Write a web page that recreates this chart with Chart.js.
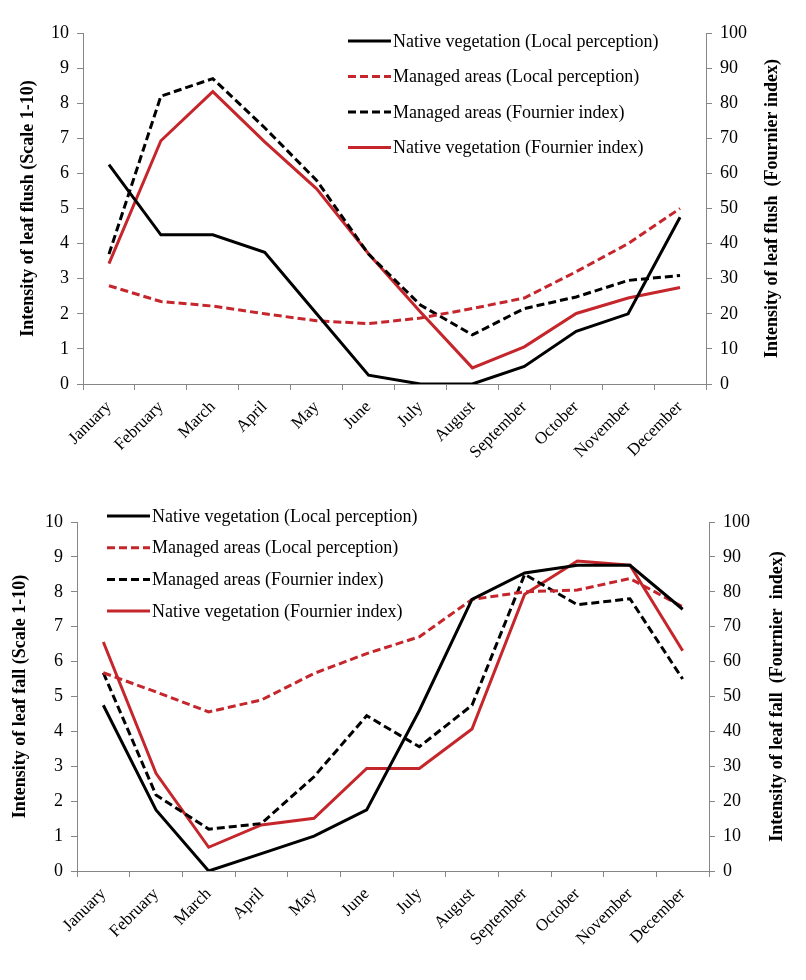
<!DOCTYPE html>
<html>
<head>
<meta charset="utf-8">
<script src="https://cdn.jsdelivr.net/npm/chart.js@4.4.1/dist/chart.umd.min.js"></script>
<style>
body{margin:0;background:#fff;}
#top{position:absolute;left:0;top:0;width:806px;height:470px;}
#bot{position:absolute;left:0;top:470px;width:806px;height:510px;}
</style>
</head>
<body>
<div id="top"><canvas id="flush"></canvas></div>
<div id="bot"><canvas id="fall"></canvas></div>
<script>
const months=['January','February','March','April','May','June','July','August','September','October','November','December'];
const seriesNames=['Native vegetation (Local perception)','Managed areas (Local perception)','Managed areas (Fournier index)','Native vegetation (Fournier index)'];

// leaf flush: local perception on scale 1-10, Fournier index 0-100
const flushNativeLocal=[6.25,4.25,4.25,3.75,2.0,0.25,0,0,0.5,1.5,2.0,4.75];
const flushManagedLocal=[2.8,2.35,2.22,2.0,1.8,1.72,1.88,2.15,2.45,3.2,4.0,5.0];
const flushManagedFournier=[37,82,87,73,58,37,22.5,14,21.5,24.8,29.5,30.9];
const flushNativeFournier=[34.3,69.3,83.3,69,55.6,37.1,20.5,4.6,10.6,20.1,24.5,27.5];

// leaf fall
const fallNativeLocal=[4.75,1.75,0,0.5,1.0,1.75,4.6,7.78,8.54,8.76,8.76,7.5];
const fallManagedLocal=[5.68,5.13,4.56,4.9,5.66,6.23,6.71,7.78,8.0,8.05,8.38,7.57];
const fallManagedFournier=[56.8,21.8,12,13.6,27,44.5,35.6,47.5,85,76.3,78,55];
const fallNativeFournier=[65.6,28,6.8,13.2,15.1,29.4,29.4,40.7,79.3,88.8,87.6,63.1];

const FONT="'Liberation Serif','Times New Roman',serif";
const RED='#c4262c';
const AXIS='#868686';

// legend drawn inside the plot, like the excel original
const legendBox={
  id:'legendBox',
  afterDraw(chart,args,opts){
    const c=chart.ctx;
    c.save();
    c.font='18px '+FONT;
    c.textBaseline='middle';
    chart.data.datasets.forEach((ds,i)=>{
      const y=opts.y+i*opts.step;
      c.strokeStyle=ds.borderColor;
      c.lineWidth=3;
      c.setLineDash(ds.borderDash||[]);
      c.beginPath();c.moveTo(opts.x,y);c.lineTo(opts.x+43,y);c.stroke();
      c.setLineDash([]);
      c.fillStyle='#000';
      c.fillText(ds.label,opts.x+45,y+1);
    });
    c.restore();
  }
};

// right axis title reads bottom-to-top in the original
const rightTitle={
  id:'rightTitle',
  afterDraw(chart,args,opts){
    const c=chart.ctx,a=chart.chartArea;
    c.save();
    c.translate(opts.x,(a.top+a.bottom)/2);
    c.rotate(-Math.PI/2);
    c.font='bold 18px '+FONT;
    c.fillStyle='#000';
    c.textAlign='center';
    c.textBaseline='middle';
    c.fillText(opts.text,0,0);
    c.restore();
  }
};

function sets(a,b,c,d){
  return [
    {label:seriesNames[0],data:a,borderColor:'#000',yAxisID:'y'},
    {label:seriesNames[1],data:b,borderColor:RED,borderDash:[8,4],yAxisID:'y'},
    {label:seriesNames[2],data:c,borderColor:'#000',borderDash:[8,4],yAxisID:'y1'},
    {label:seriesNames[3],data:d,borderColor:RED,yAxisID:'y1'}
  ];
}

function makeChart(id,datasets,o){
  return new Chart(document.getElementById(id),{
    type:'line',
    data:{labels:months,datasets:datasets},
    plugins:[legendBox,rightTitle],
    options:{
      responsive:true,maintainAspectRatio:false,animation:false,devicePixelRatio:1,
      layout:{padding:{top:o.top,left:0,right:0,bottom:0}},
      elements:{line:{borderWidth:3,tension:0,borderCapStyle:'butt'},point:{radius:0}},
      plugins:{
        legend:{display:false},tooltip:{enabled:false},
        legendBox:{x:o.legX,y:o.legY,step:o.legStep},
        rightTitle:{x:o.rtX,text:o.rtText}
      },
      scales:{
        x:{
          offset:true,
          grid:{offset:true,drawOnChartArea:false,tickLength:6,color:AXIS},
          border:{color:AXIS},
          ticks:{maxRotation:45,minRotation:45,autoSkip:false,color:'#000',padding:7,font:{family:FONT,size:17}},
          afterFit:s=>{s.height=o.xh;}
        },
        y:{
          position:'left',min:0,max:10,
          grid:{drawOnChartArea:false,tickLength:6,color:AXIS},
          border:{color:AXIS},
          ticks:{stepSize:1,color:'#000',padding:8,font:{family:FONT,size:18}},
          title:{display:true,text:o.ltText,color:'#000',padding:{top:o.ltPad,bottom:0},font:{family:FONT,size:18,weight:'bold'}},
          afterFit:s=>{s.width=o.lw;}
        },
        y1:{
          position:'right',min:0,max:100,
          grid:{drawOnChartArea:false,tickLength:6,color:AXIS},
          border:{color:AXIS},
          ticks:{stepSize:10,color:'#000',padding:8,font:{family:FONT,size:18}},
          afterFit:s=>{s.width=o.rw;}
        }
      }
    }
  });
}

makeChart('flush',sets(flushNativeLocal,flushManagedLocal,flushManagedFournier,flushNativeFournier),{
  top:33,xh:86,lw:83,rw:100,
  legX:348,legY:41,legStep:35.5,
  rtX:772,rtText:'Intensity of leaf flush  (Fournier index)',
  ltText:'Intensity of leaf flush (Scale 1-10)',ltPad:18
});

makeChart('fall',sets(fallNativeLocal,fallManagedLocal,fallManagedFournier,fallNativeFournier),{
  top:52,xh:109,lw:77,rw:97,
  legX:107,legY:46,legStep:31.7,
  rtX:777,rtText:'Intensity of leaf fall  (Fournier  index)',
  ltText:'Intensity of leaf fall (Scale 1-10)',ltPad:10
});
</script>
</body>
</html>
